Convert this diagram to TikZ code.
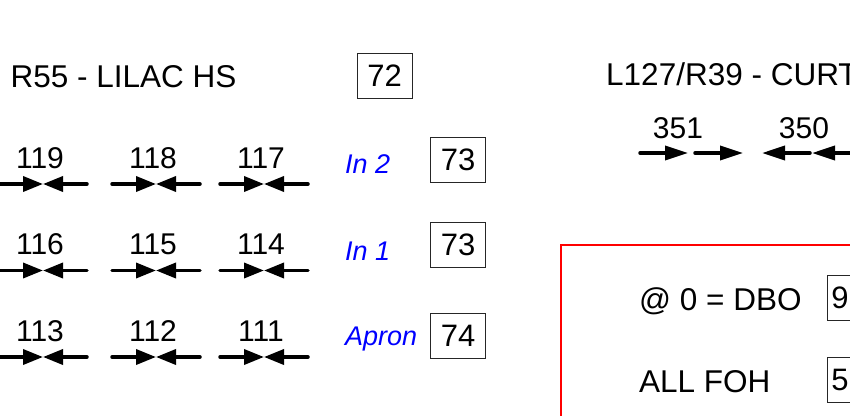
\documentclass[tikz,border=0pt]{standalone}
\usepackage{fontspec}
\setmainfont{Liberation Sans}
\usetikzlibrary{arrows.meta}

\begin{document}
\begin{tikzpicture}[x=1pt,y=-1pt]
\tikzstyle{title}=[anchor=base west,inner sep=0pt,font=\fontsize{31.5}{36}\selectfont]
\tikzstyle{num}=[anchor=base,inner sep=0pt,font=\fontsize{30}{36}\selectfont]
\tikzstyle{barlabel}=[anchor=base west,inner sep=0pt,text=blue,font=\fontsize{27}{30}\selectfont\itshape]
\tikzstyle{numbox}=[rectangle,draw=black!85,line width=0.8pt,minimum width=55pt,minimum height=45pt,inner sep=0pt,font=\fontsize{31}{36}\selectfont]
\tikzstyle{tie}=[line width=3.5pt,line cap=round,-{Triangle[length=20pt,width=15pt]}]
\tikzstyle{arr}=[line width=3.5pt,line cap=round,-{Triangle[length=23pt,width=14pt]}]

\useasboundingbox (0,0) rectangle (850,415);
\clip (0,0) rectangle (850,415);

% lilac hs
\node[title] (hs) at (10.5,87) {R55 - LILAC HS};
\node[numbox] (hsbox) at (384.5,75.5) {72};

\foreach \n/\x/\y in {119/43/184,118/156/184,117/264/184,
                      116/43/270.5,115/156/270.5,114/264/270.5,
                      113/43/357,112/156/357,111/264/357}{
  \coordinate (c\n) at (\x,\y);
  \coordinate (l\n) at (\x-44,\y);
  \coordinate (r\n) at (\x+44,\y);
  \draw[tie] (l\n) -- (c\n);
  \draw[tie] (r\n) -- (c\n);
  \node[num] (n\n) at (\x-3,\y-16) {\n};
}

\node[barlabel] (in2) at (345,173) {In 2};
\node[numbox] (in2box) at (458,159.5) {73};
\node[barlabel] (in1) at (345,260) {In 1};
\node[numbox] (in1box) at (458,245) {73};
\node[barlabel] (apron) at (345,345) {Apron};
\node[numbox] (apronbox) at (458,336) {74};

% curtain
\node[title] (curt) at (606,85) {L127/R39 - CURT};
\node[num] (n351) at (678,138) {351};
\node[num] (n350) at (804,138) {350};

\coordinate (a1s) at (640,153);
\coordinate (a1e) at (688,153);
\coordinate (a2s) at (695,153);
\coordinate (a2e) at (743,153);
\coordinate (a3s) at (810,153);
\coordinate (a3e) at (762,153);
\coordinate (a4s) at (860,153);
\coordinate (a4e) at (812,153);
\draw[arr] (a1s) -- (a1e);
\draw[arr] (a2s) -- (a2e);
\draw[arr] (a3s) -- (a3e);
\draw[arr] (a4s) -- (a4e);

% foh
\draw[red,line width=2pt] (561,245) rectangle (900,450);
\node[title] (dbo) at (639,310) {@ 0 = DBO};
\node[numbox,anchor=west,minimum width=0pt,inner xsep=4pt] (dbobox) at (827,297.5) {9};
\node[title] (foh) at (639,392) {ALL FOH};
\node[numbox,anchor=west,minimum width=0pt,inner xsep=4pt] (fohbox) at (827,379.5) {5};

\end{tikzpicture}
\end{document}
